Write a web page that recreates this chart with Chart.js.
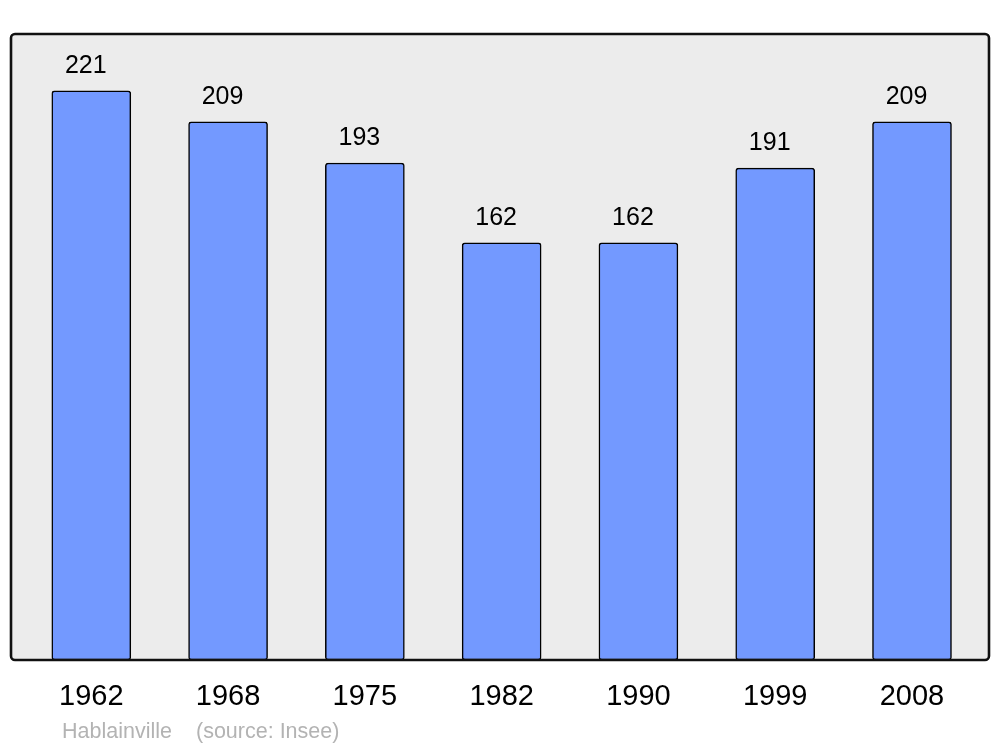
<!DOCTYPE html>
<html>
<head>
<meta charset="utf-8">
<script src="https://cdn.jsdelivr.net/npm/chart.js@4"></script>
<style>
html,body{margin:0;padding:0;background:#fff;}
canvas{display:block;}
</style>
</head>
<body>
<canvas id="c" width="1000" height="747"></canvas>
<script>
const years = ['1962','1968','1975','1982','1990','1999','2008'];
const population = [221, 209, 193, 162, 162, 191, 209];
const sourceCity = 'Hablainville';
const sourceNote = '(source: Insee)';

const FONT = '"Liberation Sans", Arial, sans-serif';

const boxPlugin = {
  id: 'boxPlugin',
  beforeDatasetsDraw(chart) {
    const {ctx, chartArea: a} = chart;
    ctx.save();
    ctx.fillStyle = '#ececec';
    ctx.beginPath();
    ctx.roundRect(a.left, a.top, a.right - a.left, a.bottom - a.top, 4);
    ctx.fill();
    ctx.restore();
  },
  afterDatasetsDraw(chart) {
    const {ctx, chartArea: a} = chart;
    ctx.save();
    // value labels
    const meta = chart.getDatasetMeta(0);
    ctx.fillStyle = '#000';
    ctx.font = '25px ' + FONT;
    ctx.textAlign = 'center';
    ctx.textBaseline = 'middle';
    meta.data.forEach((bar, i) => {
      ctx.fillText(String(population[i]), bar.x - 5.5, bar.y - 25);
    });
    // frame
    ctx.strokeStyle = '#111';
    ctx.lineWidth = 2.6;
    ctx.beginPath();
    ctx.roundRect(a.left, a.top, a.right - a.left, a.bottom - a.top, 4);
    ctx.stroke();
    // source text
    ctx.fillStyle = '#b3b3b3';
    ctx.font = '21.5px ' + FONT;
    ctx.textAlign = 'left';
    ctx.fillText(sourceCity, 62, 732);
    ctx.fillText(sourceNote, 196, 732);
    ctx.restore();
  }
};

new Chart(document.getElementById('c'), {
  type: 'bar',
  data: {
    datasets: [{
      data: population.map((v, i) => ({x: i, y: v})),
      backgroundColor: '#7399ff',
      borderColor: '#000',
      borderWidth: 1.5,
      borderRadius: 3,
      borderSkipped: false,
      barThickness: 79
    }]
  },
  options: {
    responsive: false,
    animation: false,
    layout: {padding: {left: 11, right: 11, top: 34, bottom: 12.2}},
    plugins: {legend: {display: false}, tooltip: {enabled: false}},
    scales: {
      x: {
        type: 'linear',
        min: -0.587,
        max: 6.563,
        offset: false,
        grid: {display: false, drawTicks: false},
        border: {display: false},
        afterBuildTicks(axis) { axis.ticks = years.map((_, i) => ({value: i})); },
        ticks: {
          autoSkip: false,
          padding: 20,
          color: '#000',
          font: {family: FONT, size: 29},
          callback: (v) => years[v]
        }
      },
      y: {
        display: false,
        min: 0,
        max: 221 * 1.1
      }
    }
  },
  plugins: [boxPlugin]
});
</script>
</body>
</html>
